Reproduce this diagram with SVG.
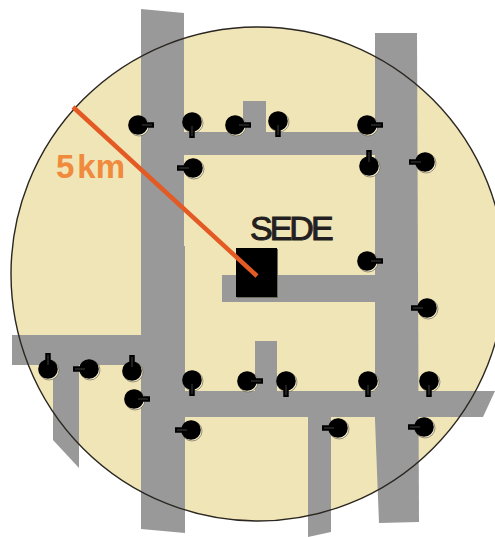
<svg xmlns="http://www.w3.org/2000/svg" width="495" height="537" viewBox="0 0 495 537">
<style>
.road{fill:#999999}
.disc{fill:#000}
.halo{fill:#F7F0D4;stroke:#5a5440;stroke-width:.6}
.stem{stroke:#000;stroke-width:5.5;fill:none}
.stemc{stroke:#2b2b2b;stroke-width:1.5;fill:none}
text{font-family:"Liberation Sans",Arial,sans-serif}
</style>
<defs>
<g id="pin-r"><circle class="halo" cx="1" cy="1" r="10"/><circle class="disc" r="9.8"/><path class="stem" d="M4 0H16"/><path class="stemc" d="M4 0H14"/></g>
<g id="pin-l"><circle class="halo" cx="1" cy="1" r="10"/><circle class="disc" r="9.8"/><path class="stem" d="M-4 0H-16"/><path class="stemc" d="M-4 0H-14"/></g>
<g id="pin-d"><circle class="halo" cx="1" cy="1" r="10"/><circle class="disc" r="9.8"/><path class="stem" d="M0 4V16"/><path class="stemc" d="M0 4V14"/></g>
<g id="pin-u"><circle class="halo" cx="1" cy="1" r="10"/><circle class="disc" r="9.8"/><path class="stem" d="M0 -4V-16"/><path class="stemc" d="M0 -4V-14"/></g>
</defs>
<circle id="area" cx="258" cy="274" r="247" fill="#F0E5B7"/>
<g id="roads">
<polygon class="road" points="141,9 184,13 184,246 185,246 185,533 141,529"/>
<polygon class="road" points="375,33 417,33 419,522 379,523 375,420"/>
<rect class="road" x="184" y="132" width="192" height="23"/>
<rect class="road" x="243" y="101" width="23" height="32"/>
<rect class="road" x="222" y="275" width="154" height="27"/>
<polygon class="road" points="12,335 142,335 142,365 79,365 79,468 53,440 53,365 12,365"/>
<polygon class="road" points="184,391 495,391 483,417 184,417"/>
<rect class="road" x="255" y="341" width="22" height="50"/>
<polygon class="road" points="308,416 331,416 331,532 308,537"/>
</g>
<circle id="boundary" cx="258" cy="274" r="247" fill="none" stroke="#2a2620" stroke-width="1.4"/>
<g id="sede">
<rect x="237" y="249" width="41" height="49" fill="#6b6b60"/>
<rect x="236" y="248" width="41" height="49" fill="#000"/>
<text x="250" y="240" font-size="34" letter-spacing="-3" fill="#231f20" stroke="#231f20" stroke-width="1">SEDE</text>
</g>
<g id="radius">
<line x1="73" y1="107" x2="257" y2="276" stroke="#E35A24" stroke-width="4.5"/>
<text x="56" y="178" font-size="33" font-weight="bold" fill="#F08A3C">5<tspan dx="3">km</tspan></text>
</g>
<g id="pin1"><use href="#pin-r" x="138" y="125"/></g>
<g id="pin2"><use href="#pin-d" x="192" y="122"/></g>
<g id="pin3"><use href="#pin-r" x="235" y="125"/></g>
<g id="pin4"><use href="#pin-d" x="278" y="121"/></g>
<g id="pin5"><use href="#pin-l" x="193" y="168"/></g>
<g id="pin6"><use href="#pin-r" x="367" y="125"/></g>
<g id="pin7"><use href="#pin-u" x="369" y="166"/></g>
<g id="pin8"><use href="#pin-l" x="425" y="162"/></g>
<g id="pin9"><use href="#pin-r" x="367" y="261"/></g>
<g id="pin10"><use href="#pin-l" x="427" y="308"/></g>
<g id="pin11"><use href="#pin-u" x="48" y="369"/></g>
<g id="pin12"><use href="#pin-l" x="89" y="369"/></g>
<g id="pin13"><use href="#pin-u" x="132" y="371"/></g>
<g id="pin14"><use href="#pin-r" x="134" y="399"/></g>
<g id="pin15"><use href="#pin-d" x="192" y="380"/></g>
<g id="pin16"><use href="#pin-l" x="191" y="430"/></g>
<g id="pin17"><use href="#pin-r" x="247" y="381"/></g>
<g id="pin18"><use href="#pin-d" x="286" y="381"/></g>
<g id="pin19"><use href="#pin-d" x="368" y="381"/></g>
<g id="pin20"><use href="#pin-d" x="429" y="381"/></g>
<g id="pin21"><use href="#pin-l" x="338" y="428"/></g>
<g id="pin22"><use href="#pin-l" x="424" y="427"/></g>
</svg>
